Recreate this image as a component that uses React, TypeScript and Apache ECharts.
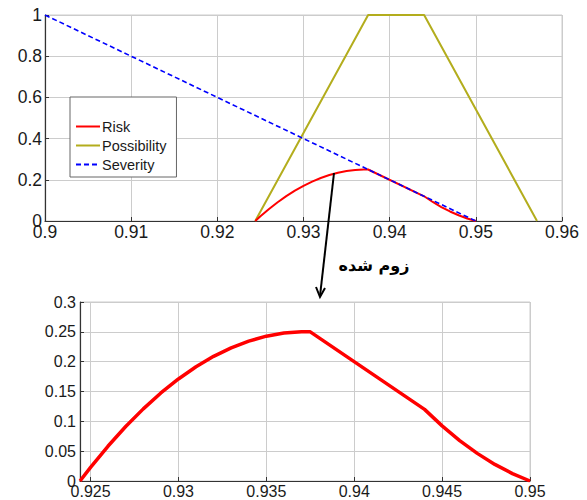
import React, { useEffect, useRef } from "react";
import * as echarts from "echarts";

// Top chart data
const severityPts: [number, number][] = [
  [0.9, 1],
  [0.95, 0],
];
const possibilityPts: [number, number][] = [
  [0.9244, 0],
  [0.9375, 1],
  [0.944, 1],
  [0.9571, 0],
];
const riskX = [
  0.9244, 0.925, 0.926, 0.927, 0.928, 0.929, 0.93, 0.931, 0.932, 0.933, 0.934,
  0.935, 0.936, 0.937, 0.9375, 0.944, 0.945, 0.946, 0.947, 0.948, 0.949, 0.95,
];
const riskY = [
  0, 0.0229, 0.0586, 0.0913, 0.1209, 0.1475, 0.171, 0.1915, 0.2089, 0.2232,
  0.2345, 0.2427, 0.2479, 0.2501, 0.25, 0.12, 0.0924, 0.0678, 0.0463, 0.0278,
  0.0124, 0,
];
const bottomXTicks = [0.925, 0.93, 0.935, 0.94, 0.945, 0.95];
const legendNames = ["Risk", "Possibility", "Severity"];
const zoomLabel = "زوم شده";

const TXT = "#1a1a1a";
const GRIDC = "#cccccc";
const AXC = "#333";
const FONT = "Liberation Sans, Arial, sans-serif";

export default function App() {
  const ref = useRef<HTMLDivElement>(null);
  useEffect(() => {
    if (!ref.current) return;
    const chart = echarts.init(ref.current, null, { renderer: "svg" });
    const riskData = riskX.map((x, i) => [x, riskY[i]]);
    const axisCommon = {
      axisLine: { show: true, lineStyle: { color: AXC, width: 1.2 } },
      axisTick: { show: true, inside: true, length: 4, lineStyle: { color: AXC } },
      splitLine: { show: true, lineStyle: { color: GRIDC, width: 1 } },
    };
    chart.setOption({
      animation: false,
      backgroundColor: "#fff",
      grid: [
        { left: 45, top: 15, width: 517, height: 206, show: true, borderColor: GRIDC, borderWidth: 1, containLabel: false },
        { left: 80, top: 302, width: 450, height: 179, show: true, borderColor: GRIDC, borderWidth: 1, containLabel: false },
      ],
      legend: {
        data: legendNames,
        orient: "vertical",
        left: 70,
        top: 97,
        padding: [22, 10, 5, 5],
        itemGap: 4,
        itemWidth: 24,
        itemHeight: 14,
        backgroundColor: "#fff",
        borderColor: "#666",
        borderWidth: 1,
        itemStyle: { opacity: 0 },
        textStyle: { color: TXT, fontSize: 14.5, fontFamily: FONT, padding: [0, 0, 0, -3] },
      },
      xAxis: [
        {
          type: "value",
          gridIndex: 0,
          min: 0.9,
          max: 0.96,
          interval: 0.01,
          ...axisCommon,
          axisLabel: { color: TXT, fontSize: 17.5, fontFamily: FONT, margin: 2 },
        },
        {
          type: "value",
          gridIndex: 1,
          min: 0.9244,
          max: 0.95,
          ...axisCommon,
          axisTick: { show: true, inside: true, length: 4, lineStyle: { color: AXC }, customValues: bottomXTicks },
          axisLabel: { color: TXT, fontSize: 16, fontFamily: FONT, margin: 2, customValues: bottomXTicks },
          splitLine: { show: true, lineStyle: { color: GRIDC, width: 1 }, customValues: bottomXTicks },
        },
      ],
      yAxis: [
        {
          type: "value",
          gridIndex: 0,
          min: 0,
          max: 1,
          interval: 0.2,
          ...axisCommon,
          axisLabel: { color: TXT, fontSize: 17.5, fontFamily: FONT, margin: 3 },
        },
        {
          type: "value",
          gridIndex: 1,
          min: 0,
          max: 0.3,
          interval: 0.05,
          ...axisCommon,
          axisLabel: { color: TXT, fontSize: 16, fontFamily: FONT, margin: 4 },
        },
      ],
      series: [
        {
          name: "Possibility",
          type: "line",
          xAxisIndex: 0,
          yAxisIndex: 0,
          data: possibilityPts,
          symbol: "none",
          lineStyle: { color: "#b3ad1d", width: 2 },
          itemStyle: { color: "#b3ad1d" },
          z: 3,
        },
        {
          name: "Risk",
          type: "line",
          xAxisIndex: 0,
          yAxisIndex: 0,
          data: riskData,
          symbol: "none",
          lineStyle: { color: "#ff0000", width: 2 },
          itemStyle: { color: "#ff0000" },
          z: 4,
        },
        {
          name: "Severity",
          type: "line",
          xAxisIndex: 0,
          yAxisIndex: 0,
          data: severityPts,
          symbol: "none",
          lineStyle: { color: "#0000ff", width: 1.6, type: [5, 3] },
          itemStyle: { color: "#0000ff" },
          z: 5,
        },
        {
          name: "RiskZoom",
          type: "line",
          xAxisIndex: 1,
          yAxisIndex: 1,
          data: riskData,
          symbol: "none",
          lineStyle: { color: "#ff0000", width: 3.5 },
          itemStyle: { color: "#ff0000" },
          z: 4,
        },
      ],
      graphic: [
        {
          type: "line",
          shape: { x1: 334, y1: 173, x2: 320, y2: 296 },
          style: { stroke: "#000", lineWidth: 2 },
          z: 100,
        },
        {
          type: "polyline",
          shape: { points: [[316, 287], [320, 297], [325, 288]] },
          style: { stroke: "#000", lineWidth: 2, fill: null },
          z: 100,
        },
        {
          type: "text",
          x: 374,
          y: 265,
          style: {
            text: zoomLabel,
            fill: "#000",
            font: "bold 16px 'DejaVu Sans'",
            textAlign: "center",
            textVerticalAlign: "middle",
          },
          z: 100,
        },
      ],
    });
    return () => chart.dispose();
  }, []);
  return (
    <div
      ref={ref}
      style={{ position: "fixed", left: 0, top: 0, width: 587, height: 500, background: "#fff" }}
    />
  );
}
